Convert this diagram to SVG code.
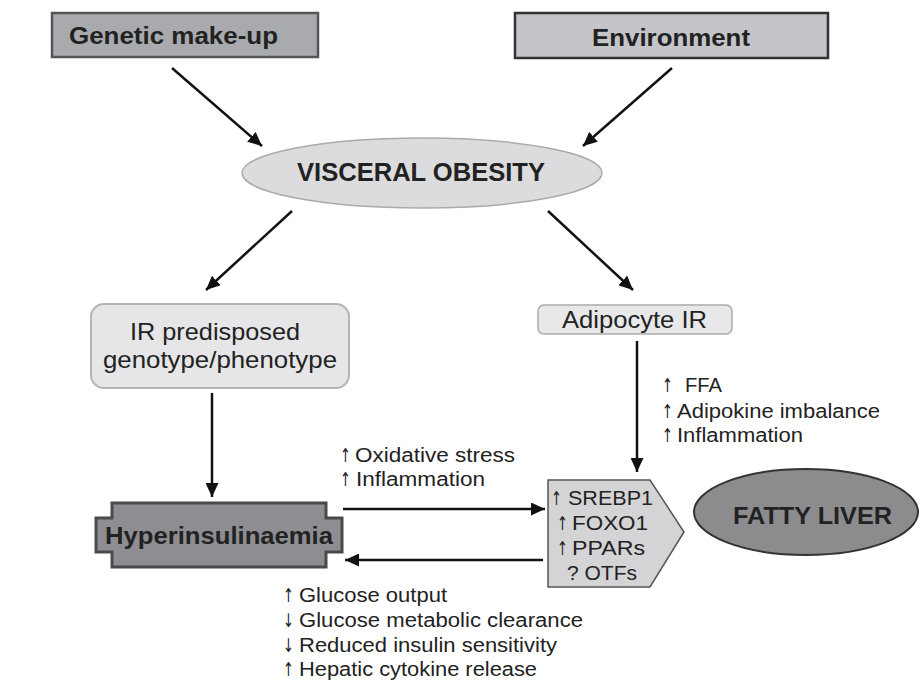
<svg xmlns="http://www.w3.org/2000/svg" width="920" height="682" viewBox="0 0 920 682">
<defs>
<marker id="ah" markerUnits="userSpaceOnUse" markerWidth="15" markerHeight="13" refX="14" refY="6.5" orient="auto">
<path d="M0,0 L14,6.5 L0,13 Z" fill="#111"/>
</marker>
<style>
.t{font-family:"Liberation Sans",Arial,sans-serif;fill:#222;}
.b{font-weight:bold;}
.l{font-size:24px;}
.s{font-size:20px;}
.a{font-family:"DejaVu Sans",sans-serif;font-size:19px;}
.c{stroke:#111;stroke-width:2.5;fill:none;marker-end:url(#ah);}
</style>
</defs>
<rect width="920" height="682" fill="#fff"/>
<g id="connectors">
<line class="c" x1="172" y1="68" x2="262" y2="146"/>
<line class="c" x1="672" y1="68" x2="583" y2="146"/>
<line class="c" x1="292" y1="211" x2="206" y2="290"/>
<line class="c" x1="548" y1="211" x2="633" y2="290"/>
<line class="c" x1="212" y1="393" x2="212" y2="497"/>
<line class="c" x1="637" y1="341" x2="637" y2="472"/>
<line class="c" x1="343" y1="509" x2="545" y2="509"/>
<line class="c" x1="543" y1="560" x2="345" y2="560"/>
</g>
<g id="genetic">
<rect x="52" y="13" width="266" height="44" fill="#a9aaae" stroke="#555" stroke-width="2.5"/>
<text class="t b l" x="69" y="44" textLength="209" lengthAdjust="spacingAndGlyphs">Genetic make-up</text>
</g>
<g id="environment">
<rect x="515" y="13" width="313" height="45" fill="#c4c5c9" stroke="#333" stroke-width="2.5"/>
<text class="t b l" x="592" y="46" textLength="158" lengthAdjust="spacingAndGlyphs">Environment</text>
</g>
<g id="visceral">
<ellipse cx="422" cy="173" rx="180" ry="35" fill="#dcdcde" stroke="#aaa" stroke-width="1.5"/>
<text class="t b" style="font-size:25px" x="297" y="181" textLength="248" lengthAdjust="spacingAndGlyphs">VISCERAL OBESITY</text>
</g>
<g id="ir-predisposed">
<rect x="91" y="304" width="258" height="84" rx="13" fill="#e6e6e8" stroke="#b5b5b5" stroke-width="2"/>
<text class="t l" x="130" y="340" textLength="170" lengthAdjust="spacingAndGlyphs">IR predisposed</text>
<text class="t l" x="103" y="368" textLength="234" lengthAdjust="spacingAndGlyphs">genotype/phenotype</text>
</g>
<g id="adipocyte">
<rect x="538" y="305" width="194" height="29" rx="6" fill="#e8e8ea" stroke="#aaa" stroke-width="1.5"/>
<text class="t" style="font-size:23px" x="562" y="328" textLength="145" lengthAdjust="spacingAndGlyphs">Adipocyte IR</text>
</g>
<g id="hyperinsulinaemia">
<path d="M112,503 H326 V518 H342 V552 H326 V567 H112 V552 H96 V518 H112 Z" fill="#8e8e92" stroke="#4a4a4a" stroke-width="3"/>
<text class="t b l" x="105" y="544" textLength="228" lengthAdjust="spacingAndGlyphs">Hyperinsulinaemia</text>
</g>
<g id="factors">
<path d="M548,480 H650 L684,532 L650,587 H548 Z" fill="#d4d4d6" stroke="#555" stroke-width="1.5"/>
<text class="t" style="font-size:21px"><tspan class="a" x="551" y="505" textLength="11" lengthAdjust="spacingAndGlyphs">↑</tspan><tspan x="568" y="505" textLength="85" lengthAdjust="spacingAndGlyphs">SREBP1</tspan></text>
<text class="t" style="font-size:21px"><tspan class="a" x="557" y="530" textLength="11" lengthAdjust="spacingAndGlyphs">↑</tspan><tspan x="572" y="530" textLength="76" lengthAdjust="spacingAndGlyphs">FOXO1</tspan></text>
<text class="t" style="font-size:21px"><tspan class="a" x="557" y="555" textLength="11" lengthAdjust="spacingAndGlyphs">↑</tspan><tspan x="572" y="555" textLength="73" lengthAdjust="spacingAndGlyphs">PPARs</tspan></text>
<text class="t" style="font-size:21px" x="567" y="580">? OTFs</text>
</g>
<g id="fatty-liver">
<ellipse cx="806" cy="512" rx="112" ry="43" fill="#8c8c8e" stroke="#333" stroke-width="2"/>
<text class="t b" style="font-size:24px" x="733" y="524" textLength="159" lengthAdjust="spacingAndGlyphs">FATTY LIVER</text>
</g>
<g id="label-adipocyte">
<text class="t s"><tspan class="a" x="662" y="392" textLength="11" lengthAdjust="spacingAndGlyphs">↑</tspan><tspan x="685" y="392" textLength="37" lengthAdjust="spacingAndGlyphs">FFA</tspan></text>
<text class="t s"><tspan class="a" x="662" y="418" textLength="11" lengthAdjust="spacingAndGlyphs">↑</tspan><tspan x="677" y="418" textLength="203" lengthAdjust="spacingAndGlyphs">Adipokine imbalance</tspan></text>
<text class="t s"><tspan class="a" x="662" y="442" textLength="11" lengthAdjust="spacingAndGlyphs">↑</tspan><tspan x="677" y="442" textLength="126" lengthAdjust="spacingAndGlyphs">Inflammation</tspan></text>
</g>
<g id="label-oxidative">
<text class="t s"><tspan class="a" x="340" y="462" textLength="11" lengthAdjust="spacingAndGlyphs">↑</tspan><tspan x="355" y="462" textLength="160" lengthAdjust="spacingAndGlyphs">Oxidative stress</tspan></text>
<text class="t s"><tspan class="a" x="340" y="486" textLength="11" lengthAdjust="spacingAndGlyphs">↑</tspan><tspan x="356" y="486" textLength="129" lengthAdjust="spacingAndGlyphs">Inflammation</tspan></text>
</g>
<g id="label-hepatic">
<text class="t s"><tspan class="a" x="283" y="602" textLength="11" lengthAdjust="spacingAndGlyphs">↑</tspan><tspan x="299" y="602" textLength="148" lengthAdjust="spacingAndGlyphs">Glucose output</tspan></text>
<text class="t s"><tspan class="a" x="283" y="627" textLength="11" lengthAdjust="spacingAndGlyphs">↓</tspan><tspan x="299" y="627" textLength="284" lengthAdjust="spacingAndGlyphs">Glucose metabolic clearance</tspan></text>
<text class="t s"><tspan class="a" x="283" y="652" textLength="11" lengthAdjust="spacingAndGlyphs">↓</tspan><tspan x="299" y="652" textLength="258" lengthAdjust="spacingAndGlyphs">Reduced insulin sensitivity</tspan></text>
<text class="t s"><tspan class="a" x="283" y="676" textLength="11" lengthAdjust="spacingAndGlyphs">↑</tspan><tspan x="299" y="676" textLength="238" lengthAdjust="spacingAndGlyphs">Hepatic cytokine release</tspan></text>
</g>
</svg>
